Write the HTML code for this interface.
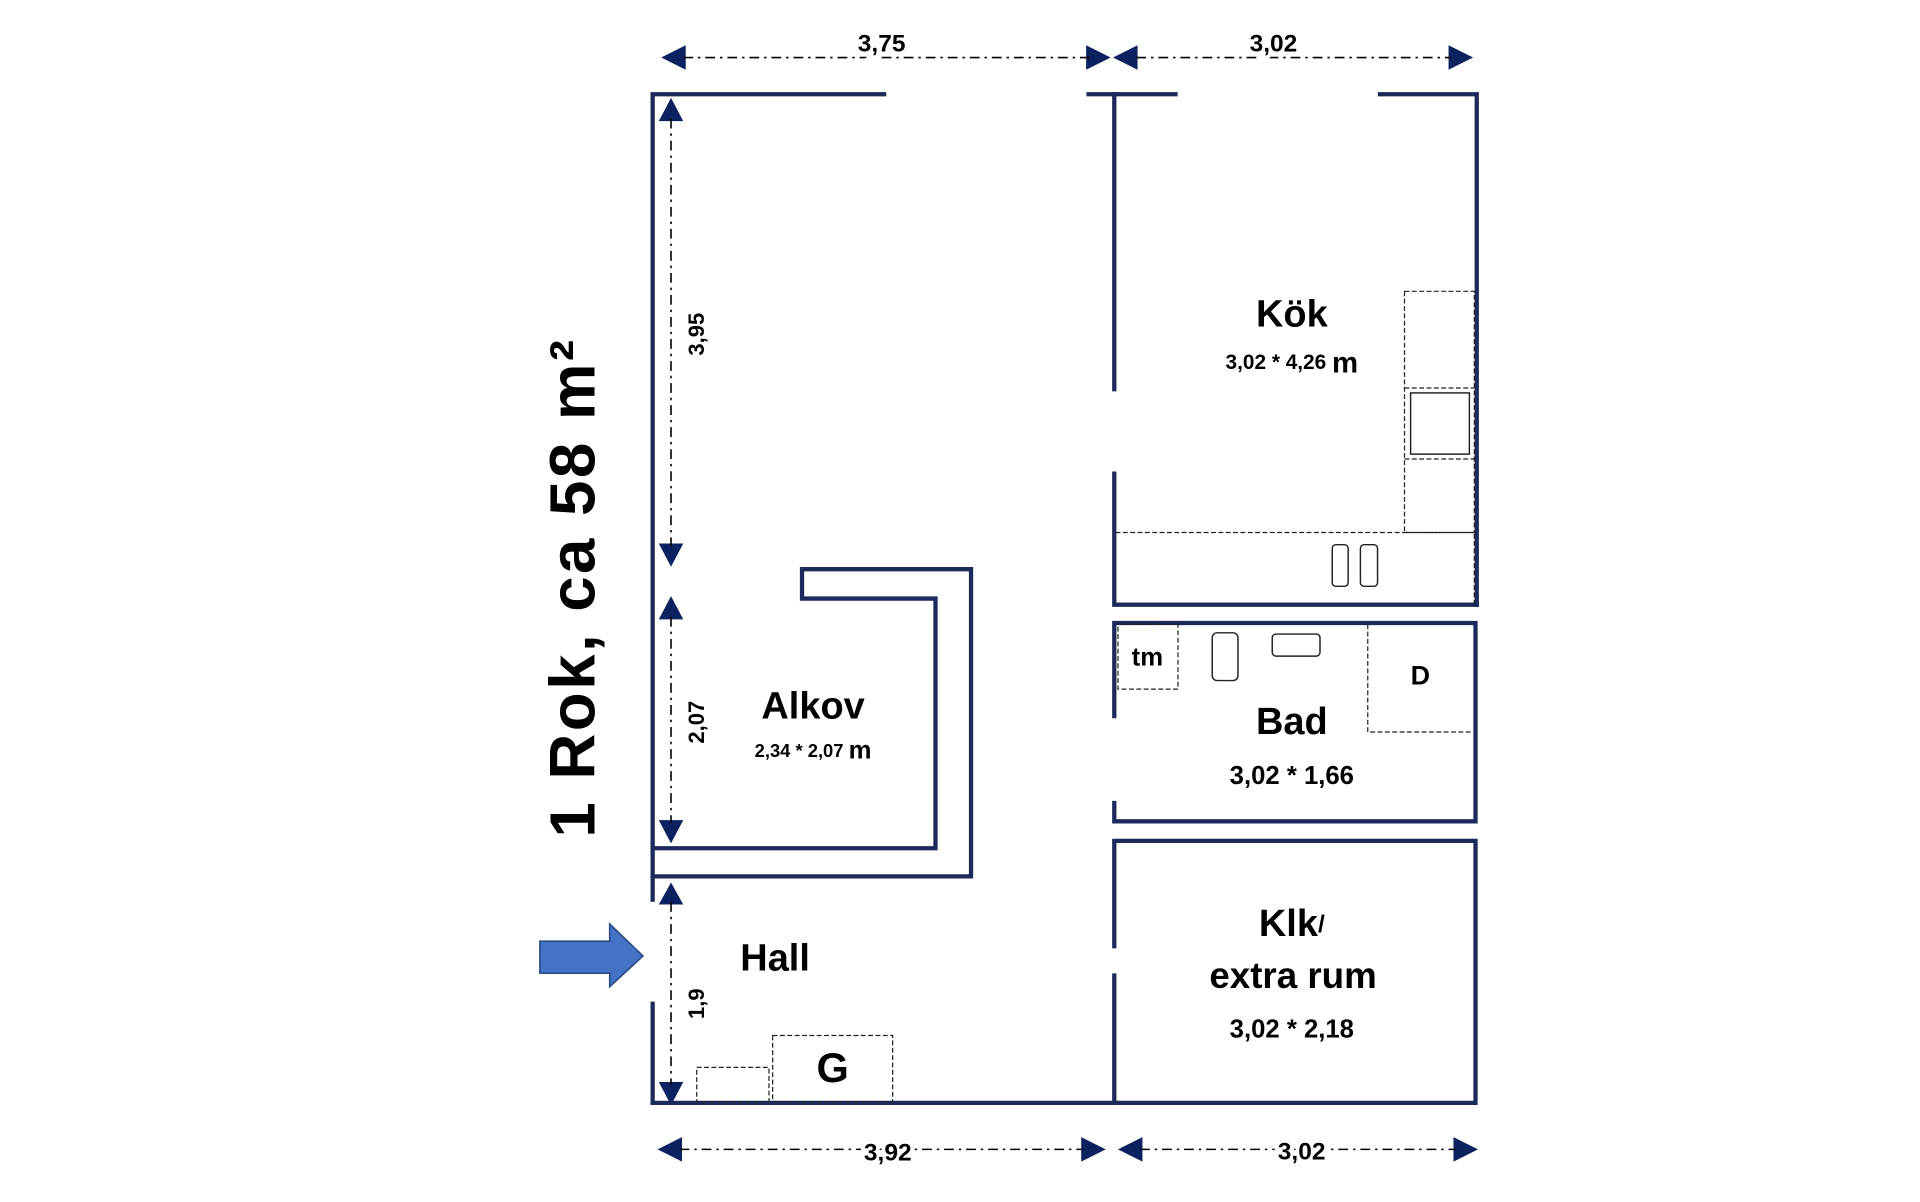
<!DOCTYPE html>
<html><head><meta charset="utf-8"><style>
html,body{margin:0;padding:0;background:#fff;width:1920px;height:1202px;overflow:hidden}
svg{display:block}
text{font-family:"Liberation Sans",sans-serif;font-weight:bold;fill:#000;text-anchor:middle;dominant-baseline:central}
</style></head><body>
<svg width="1920" height="1202" viewBox="0 0 1568 982" preserveAspectRatio="none" xmlns="http://www.w3.org/2000/svg">
<g fill="#0c2260">
<polygon points="540,47 560,37 560,57"/><polygon points="907,47 887,37 887,57"/>
<polygon points="909,47 929,37 929,57"/><polygon points="1203,47 1183,37 1183,57"/>
<polygon points="537,939 557,929 557,949"/><polygon points="903,939 883,929 883,949"/>
<polygon points="913,939 933,929 933,949"/><polygon points="1207,939 1187,929 1187,949"/>
<polygon points="548,80 538,99 558,99"/><polygon points="548,463 538,444 558,444"/>
<polygon points="548,487 538,506 558,506"/><polygon points="548,689 538,670 558,670"/>
<polygon points="548,721 538,739 558,739"/><polygon points="548,903 538,884 558,884"/>
</g>
<g stroke="#000" stroke-width="1.3" stroke-dasharray="8,4,2,4" fill="none">
<line x1="558" y1="47" x2="890" y2="47"/><line x1="928" y1="47" x2="1185" y2="47"/>
<line x1="555" y1="939" x2="885" y2="939"/><line x1="931" y1="939" x2="1189" y2="939"/>
<line x1="548" y1="97" x2="548" y2="446"/><line x1="548" y1="504" x2="548" y2="672"/><line x1="548" y1="737" x2="548" y2="886"/>
</g>
<g stroke="#1b2a5a" stroke-width="3.5" fill="none" stroke-linecap="square">
<polyline points="722,77 533,77 533,735"/>
<line x1="533" y1="820" x2="533" y2="901"/>
<line x1="533" y1="901" x2="912" y2="901"/>
<line x1="889" y1="77" x2="960" y2="77"/>
<polyline points="1127,77 1206,77 1206,494"/>
<line x1="910" y1="77" x2="910" y2="318"/>
<polyline points="910,387 910,494 1206,494"/>
<polyline points="910,585 910,509 1205,509 1205,671 910,671 910,656"/>
<polyline points="910,773 910,687 1205,687 1205,901 910,901 910,797"/>
<polyline points="533,716 793,716 793,465 655,465 655,489 764,489 764,693 533,693"/>
</g>
<g stroke="#222" stroke-width="1" stroke-dasharray="4,2" fill="none">
<rect x="1147" y="238" width="57" height="197"/>
<line x1="1147" y1="317" x2="1204" y2="317"/><line x1="1147" y1="375" x2="1204" y2="375"/>
<polyline points="911,435 1204,435 1204,494"/>
<rect x="913" y="510" width="49" height="53"/>
<polyline points="1117,510 1117,598 1203,598"/>
<rect x="569" y="872" width="59" height="28"/>
<rect x="631" y="846" width="98" height="54"/>
</g>
<g stroke="#222" stroke-width="1.2" fill="none">
<rect x="1152" y="321" width="48" height="50"/>
<rect x="1088" y="445" width="13" height="34" rx="3"/>
<rect x="1111" y="445" width="14" height="34" rx="3"/>
<rect x="990" y="517" width="21" height="39" rx="4"/>
<rect x="1039" y="518" width="39" height="18" rx="3"/>
</g>
<polygon points="441,769 498,769 498,755 525,781 498,806 498,795 441,795" fill="#4472c4" stroke="#2f528f" stroke-width="1.5"/>
<text x="720" y="36" font-size="20" style="paint-order:stroke" stroke="#fff" stroke-width="6">3,75</text>
<text x="1040" y="36" font-size="20" style="paint-order:stroke" stroke="#fff" stroke-width="6">3,02</text>
<text x="725" y="942" font-size="20" style="paint-order:stroke" stroke="#fff" stroke-width="6">3,92</text>
<text x="1063" y="941" font-size="20" style="paint-order:stroke" stroke="#fff" stroke-width="6">3,02</text>
<text transform="translate(569,273) rotate(-90)" font-size="18">3,95</text>
<text transform="translate(569,590) rotate(-90)" font-size="18">2,07</text>
<text transform="translate(569,820) rotate(-90)" font-size="18">1,9</text>
<text transform="translate(468,480) rotate(-90)" font-size="52" letter-spacing="2">1 Rok, ca 58 m²</text>
<text x="1055" y="257" font-size="31">Kök</text>
<text x="1055" y="296" font-size="17">3,02 * 4,26 <tspan font-size="24">m</tspan></text>
<text x="664" y="577" font-size="31">Alkov</text>
<text x="664" y="613" font-size="15">2,34 * 2,07 <tspan font-size="21">m</tspan></text>
<text x="937" y="537" font-size="21">tm</text>
<text x="1160" y="552" font-size="22">D</text>
<text x="1055" y="590" font-size="31">Bad</text>
<text x="1055" y="634" font-size="21">3,02 * 1,66</text>
<text x="1055" y="755" font-size="31">Klk<tspan font-size="20">/</tspan></text>
<text x="1056" y="797" font-size="30">extra rum</text>
<text x="1055" y="841" font-size="21">3,02 * 2,18</text>
<text x="633" y="783" font-size="31">Hall</text>
<text x="680" y="872" font-size="34">G</text>
</svg>
</body></html>
